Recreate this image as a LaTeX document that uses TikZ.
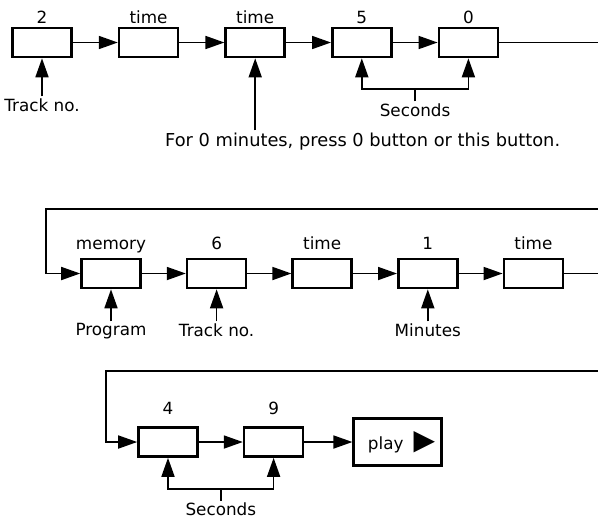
\documentclass[tikz,border=0pt]{standalone}
\usepackage{fontspec}
\setmainfont{DejaVu Sans}
\usetikzlibrary{arrows.meta, positioning, calc}

\begin{document}
\begin{tikzpicture}[
        x=0.5pt, y=-0.5pt,
        font=\fontsize{8.4pt}{10pt}\selectfont,
        btn/.style={draw, rectangle, line width=1.3pt, minimum width=29.5pt, minimum height=14.5pt, inner sep=0pt},
        wire/.style={-{Triangle[length=9.5pt, width=6.5pt]}, line width=0.85pt},
        rail/.style={line width=0.85pt},
        tag/.style={inner sep=1pt, text depth=0pt},
        note/.style={inner sep=1pt}
    ]
        \useasboundingbox (0,0) rectangle (598,521);
        \coordinate (edge) at (598,0);

        % First row: track 2, 0 min 50 s
        \node[btn] (b1) at (42,42.5) {};
        \node[btn, right=22.5pt of b1] (b2) {};
        \node[btn, right=22.5pt of b2] (b3) {};
        \node[btn, right=22.5pt of b3] (b4) {};
        \node[btn, right=22.5pt of b4] (b5) {};

        \node[tag, above=0.5pt of b1] (l1) {2};
        \node[tag, above=0.5pt of b2] (l2) {time};
        \node[tag, above=0.5pt of b3] (l3) {time};
        \node[tag, above=0.5pt of b4] (l4) {5};
        \node[tag, above=0.5pt of b5] (l5) {0};

        \draw[wire] (b1) -- (b2);
        \draw[wire] (b2) -- (b3);
        \draw[wire] (b3) -- (b4);
        \draw[wire] (b4) -- (b5);
        \draw[rail] (b5) -- (b5 -| edge);

        \node[note, below=19pt of b1] (n1) {Track no.};
        \draw[wire] (n1) -- (b1);

        \node[note, below=36pt of b3, xshift=53.75pt, font=\fontsize{8.9pt}{10pt}\selectfont] (hint) {For 0 minutes, press 0 button or this button.};
        \draw[wire] (hint.north -| b3.south) -- (b3.south);

        \coordinate (m1) at ($(b4.south)!.5!(b5.south)$);
        \node[note, below=21.5pt of m1] (s1) {Seconds};
        \coordinate (k1) at ([yshift=6pt]s1.north);
        \draw[rail] (s1) -- (k1);
        \draw[wire] (k1) -| (b4.south);
        \draw[wire] (k1) -| (b5.south);

        % Second row: memory, track 6, 1 min
        \coordinate (r2) at (46,209);
        \node[btn] (c1) at (111,273.5) {};
        \node[btn, right=22pt of c1] (c2) {};
        \node[btn, right=22pt of c2] (c3) {};
        \node[btn, right=22pt of c3] (c4) {};
        \node[btn, right=22pt of c4] (c5) {};

        \node[tag, above=3pt of c1] (p1) {memory};
        \node[tag, above=3pt of c2] (p2) {6};
        \node[tag, above=3pt of c3] (p3) {time};
        \node[tag, above=3pt of c4] (p4) {1};
        \node[tag, above=3pt of c5] (p5) {time};

        \draw[wire] (r2 -| edge) -- (r2) |- (c1);
        \draw[wire] (c1) -- (c2);
        \draw[wire] (c2) -- (c3);
        \draw[wire] (c3) -- (c4);
        \draw[wire] (c4) -- (c5);
        \draw[rail] (c5) -- (c5 -| edge);

        \node[note, below=16pt of c1] (n2) {Program};
        \node[note, below=16pt of c2] (n3) {Track no.};
        \node[note, below=16pt of c4] (n4) {Minutes};
        \draw[wire] (n2) -- (c1);
        \draw[wire] (n3) -- (c2);
        \draw[wire] (n4) -- (c4);

        % Third row: 49 s, then play
        \coordinate (r3) at (106,371);
        \node[btn] (d1) at (168,442) {};
        \node[btn, right=22pt of d1] (d2) {};
        \node[draw, line width=1.1pt, minimum width=44pt, minimum height=23.5pt, inner xsep=2.5pt, right=24pt of d2] (play)
            {\hspace{4pt}play\hspace{5pt}{\fontsize{14pt}{14pt}\selectfont ▶}};

        \node[tag, above=4.5pt of d1] (q1) {4};
        \node[tag, above=4.5pt of d2] (q2) {9};

        \draw[wire] (r3 -| edge) -- (r3) |- (d1);
        \draw[wire] (d1) -- (d2);
        \draw[wire] (d2) -- (play);

        \coordinate (m2) at ($(d1.south)!.5!(d2.south)$);
        \node[note, below=21.5pt of m2] (s2) {Seconds};
        \coordinate (k2) at ([yshift=6pt]s2.north);
        \draw[rail] (s2) -- (k2);
        \draw[wire] (k2) -| (d1.south);
        \draw[wire] (k2) -| (d2.south);
    \end{tikzpicture}
\end{document}
